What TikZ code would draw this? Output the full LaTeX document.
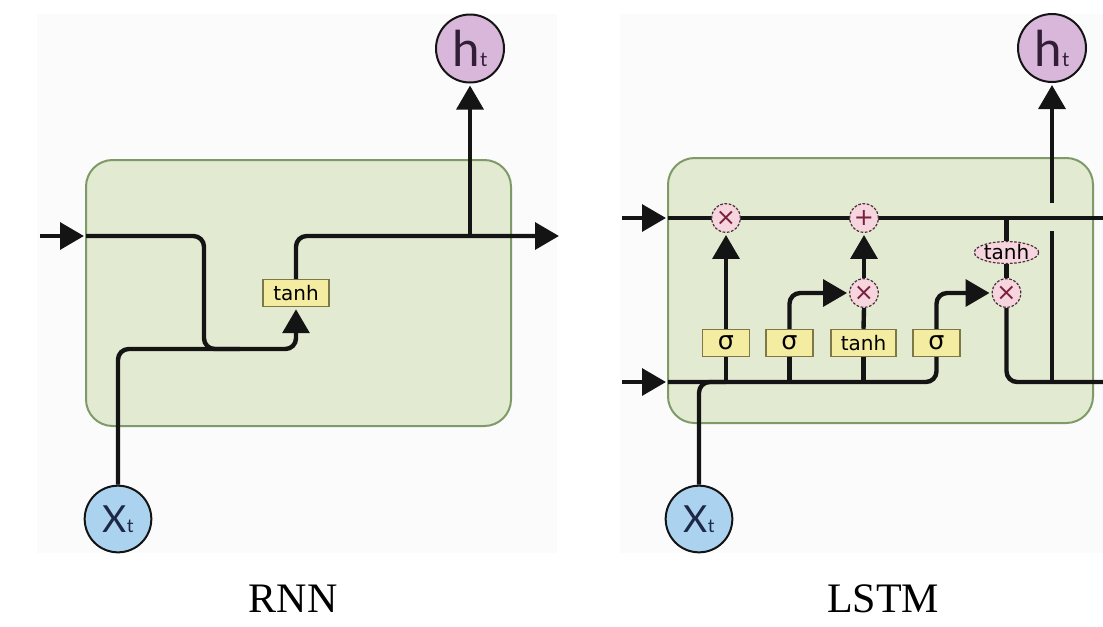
\documentclass[tikz,border=0pt]{standalone}
\usepackage{fontspec}
\setmainfont{Liberation Serif}
\newfontfamily\gatefont{DejaVu Sans}
\newfontfamily\iofont{Lato}
\usetikzlibrary{arrows.meta,shapes.geometric}
\definecolor{greenfill}{HTML}{E2EBD1}
\definecolor{greenline}{HTML}{7F9A68}
\definecolor{yellowfill}{HTML}{F4ECA0}
\definecolor{yellowline}{HTML}{7E7746}
\definecolor{pinkfill}{HTML}{F6D5DF}
\definecolor{pinkline}{HTML}{4A3038}
\definecolor{purplefill}{HTML}{D8B7DB}
\definecolor{bluefill}{HTML}{ABD3EF}
\definecolor{wirecol}{HTML}{141414}
\definecolor{bgcol}{HTML}{FBFBFB}
\definecolor{markcol}{HTML}{7A1F3D}
\pgfdeclarelayer{back}
\pgfdeclarelayer{mid}
\pgfsetlayers{back,mid,main}
\tikzset{
  wire/.style={line width=3.3pt, draw=wirecol},
  arr/.style={wire, -{Triangle[length=18pt,width=20pt]}, shorten >=1.5pt},
  roundbend/.style={rounded corners=8pt},
  cellbox/.style={draw=greenline, line width=1.5pt, fill=greenfill, rounded corners=20pt},
  gatebox/.style={draw=yellowline, line width=1.1pt, fill=yellowfill, inner sep=0pt,
    minimum width=35.25pt, minimum height=20.25pt, font=\gatefont\fontsize{15}{15}\selectfont},
  widebox/.style={gatebox, minimum width=49pt},
  sigmatext/.style={font=\gatefont\fontsize{19}{19}\selectfont},
  opcirc/.style={circle, draw=pinkline, dash pattern=on 2pt off 1.2pt, line width=0.9pt,
    fill=pinkfill, minimum size=21.5pt, inner sep=0pt, text=markcol,
    font=\gatefont\fontsize{18}{18}\selectfont},
  opell/.style={ellipse, draw=pinkline, dash pattern=on 2pt off 1.2pt, line width=0.9pt,
    fill=pinkfill, minimum width=48pt, minimum height=16pt, inner sep=0pt,
    font=\gatefont\fontsize{15}{15}\selectfont},
  hcirc/.style={circle, draw=wirecol, line width=1.5pt, fill=purplefill, minimum size=51pt,
    inner sep=0pt, text={rgb,255:red,50;green,30;blue,55}},
  xcirc/.style={circle, draw=wirecol, line width=1.5pt, fill=bluefill, minimum size=50pt,
    inner sep=0pt, text={rgb,255:red,30;green,40;blue,70}},
  caption/.style={font=\fontsize{31.5}{32}\selectfont, inner sep=0pt}
}
\newcommand{\hlabel}{{\iofont\fontsize{37}{37}\selectfont h{\fontsize{15}{15}\selectfont t}}}
\newcommand{\xlabel}{{\iofont\fontsize{28}{28}\selectfont X{\fontsize{14}{14}\selectfont t}}}
\begin{document}
\begin{tikzpicture}[x=0.75pt, y=-0.75pt]
\useasboundingbox (0,0) rectangle (1103,626);
% ---------- backgrounds ----------
\begin{pgfonlayer}{back}
  \fill[white] (0,0) rectangle (1103,626);
  \fill[bgcol] (37,14) rectangle (557,553);
  \fill[bgcol] (620,14) rectangle (1103,553);
  \path[cellbox] (86,160) rectangle (511,426);
  \path[cellbox] (668,158) rectangle (1093,423);
\end{pgfonlayer}

% ================= RNN =================
\node[hcirc] (rh) at (470,48.5) {\hlabel};
\node[xcirc] (rx) at (118,519) {\xlabel};
\node[widebox, minimum width=49.5pt] (rt) at (296,293) {tanh};
\node[caption] (rcap) at (293,599) {RNN};
\coordinate (rin) at (40,236);
\coordinate (rW) at (86,236);
\coordinate (rc1) at (204,349);
\coordinate (rc2) at (240,349);
\coordinate (rout) at (561,236);
\coordinate (rj) at (470,236);

\begin{pgfonlayer}{mid}
  \draw[arr] (rin) -- (rW);
  \draw[arr, roundbend] (rW) -| (rc1) -| (rt.south);
  \draw[wire, roundbend] (rx.north) |- (rc2);
  \draw[arr, roundbend] (rt.north) |- (rout);
  \draw[arr] (rj) -- (rh.south);
\end{pgfonlayer}

% ================= LSTM =================
\node[hcirc] (lh) at (1052,48) {\hlabel};
\node[xcirc] (lx) at (699,519) {\xlabel};
\node[caption] (lcap) at (883,599) {LSTM};

\node[gatebox, sigmatext] (s1) at (726,343) {σ};
\node[gatebox, sigmatext] (s2) at (789.5,343) {σ};
\node[widebox] (tb) at (863.5,343) {tanh};
\node[gatebox, sigmatext] (s3) at (936.5,343) {σ};

\node[opcirc] (fx) at (726,218) {×};
\node[opcirc] (pl) at (864,218) {+};
\node[opcirc] (ix) at (864,293) {×};
\node[opcirc] (ox) at (1006.5,293) {×};
\node[opell] (te) at (1006.5,252.5) {tanh};

\coordinate (ctIn) at (622,218);
\coordinate (ctW) at (668,218);
\coordinate (ctE) at (1103,218);
\coordinate (hIn) at (622,382);
\coordinate (hW) at (668,382);
\coordinate (hE) at (1103,382);
\coordinate (hjb) at (1052,382);
\coordinate (hg1) at (1052,231);
\coordinate (hg2) at (1052,203);

\begin{pgfonlayer}{mid}
  % cell state
  \draw[arr] (ctIn) -- (ctW);
  \draw[wire] (ctW) -- (ctE);
  % hidden input
  \draw[arr] (hIn) -- (hW);
  \draw[wire, roundbend] (hW) -| (s3.south);
  \draw[wire, roundbend] (lx.north) |- (s1.south |- hW);
  \draw[wire] (s1.south) -- (s1.south |- hW);
  \draw[wire] (s2.south) -- (s2.south |- hW);
  \draw[wire] (tb.south) -- (tb.south |- hW);
  % gates
  \draw[arr] (s1.north) -- (fx.south);
  \draw[arr, roundbend] (s2.north) |- (ix.west);
  \draw[wire] (tb.north) -- (ix.south);
  \draw[arr] (ix.north) -- (pl.south);
  \draw[arr, roundbend] (s3.north) |- (ox.west);
  % output
  \draw[wire] (te.north |- ctW) -- (te.north);
  \draw[wire] (te.south) -- (ox.north);
  \draw[wire, roundbend] (ox.south) |- (hE);
  \draw[wire] (hjb) -- (hg1);
  \draw[arr] (hg2) -- (lh.south);
\end{pgfonlayer}
\end{tikzpicture}
\end{document}
